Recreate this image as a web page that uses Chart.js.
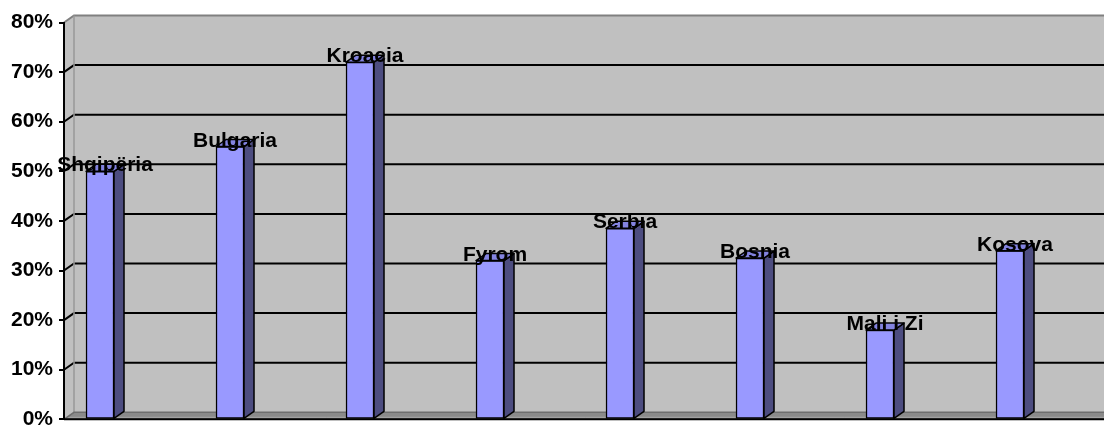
<!DOCTYPE html>
<html>
<head>
<meta charset="utf-8">
<script src="https://cdn.jsdelivr.net/npm/chart.js@4.4.1/dist/chart.umd.min.js"></script>
<style>
  html, body { margin: 0; padding: 0; background: #fff; }
  #wrap { width: 1104px; height: 428px; }
</style>
</head>
<body>
<div id="wrap"><canvas id="chart"></canvas></div>
<script>
const countries = ['Shqipëria', 'Bulgaria', 'Kroacia', 'Fyrom', 'Serbia', 'Bosnia', 'Mali i Zi', 'Kosova'];
const shares = [50, 55, 72, 32, 38.5, 32.5, 18, 34];
const yTicks = [0, 10, 20, 30, 40, 50, 60, 70, 80];

// 3D depth offset of the walls and bars
const DX = 10, DY = -7;
const FONT = 'bold 21px "Liberation Sans", Arial, sans-serif';

function line(ctx, pts, color, w) {
  ctx.beginPath();
  ctx.moveTo(pts[0][0], pts[0][1]);
  for (let i = 1; i < pts.length; i++) ctx.lineTo(pts[i][0], pts[i][1]);
  ctx.strokeStyle = color;
  ctx.lineWidth = w;
  ctx.stroke();
}

function poly(ctx, pts, fill, stroke, w) {
  ctx.beginPath();
  ctx.moveTo(pts[0][0], pts[0][1]);
  for (let i = 1; i < pts.length; i++) ctx.lineTo(pts[i][0], pts[i][1]);
  ctx.closePath();
  ctx.fillStyle = fill;
  ctx.fill();
  if (stroke) { ctx.strokeStyle = stroke; ctx.lineWidth = w; ctx.stroke(); }
}

// walls, floor and back gridlines
const wallsPlugin = {
  id: 'walls',
  beforeDraw(chart) {
    const { ctx, chartArea: a, scales: { y } } = chart;
    const L = a.left, R = a.right, T = a.top, B = a.bottom;
    ctx.save();
    // back wall
    ctx.fillStyle = '#c0c0c0';
    ctx.fillRect(L + DX, T + DY, R - L - DX, B - T);
    // left wall
    poly(ctx, [[L, T], [L + DX, T + DY], [L + DX, B + DY], [L, B]], '#c0c0c0');
    // floor
    poly(ctx, [[L, B], [L + DX, B + DY], [R, B + DY], [R, B]], '#8a8a8a');
    line(ctx, [[L + 3, B - 2], [R, B - 2]], '#a8a8a8', 1);
    // gridlines on back wall
    yTicks.forEach(t => {
      if (t === yTicks[0] || t === yTicks[yTicks.length - 1]) return;
      const py = y.getPixelForValue(t);
      line(ctx, [[L, py], [L + DX, py + DY], [R, py + DY]], '#000', 2);
    });
    // edges
    line(ctx, [[L, T], [L + DX, T + DY], [R, T + DY]], '#808080', 2);
    line(ctx, [[L + DX, T + DY], [L + DX, B + DY]], '#999', 1.5);
    line(ctx, [[L, B], [L + DX, B + DY], [R, B + DY]], '#6e6e6e', 1.5);
    ctx.restore();
  },
  afterDatasetsDraw(chart) {
    const { ctx, chartArea: a } = chart;
    const meta = chart.getDatasetMeta(0);
    ctx.save();
    ctx.lineJoin = 'round';
    meta.data.forEach(bar => {
      const { x, y, base, width } = bar.getProps(['x', 'y', 'base', 'width'], true);
      const l = x - width / 2, r = x + width / 2;
      poly(ctx, [[r, y], [r + DX, y + DY], [r + DX, base + DY], [r, base]], '#4d4d80', '#000', 1.5);
      poly(ctx, [[l, y], [l + DX, y + DY], [r + DX, y + DY], [r, y]], '#8383e0', '#000', 1.5);
    });
    line(ctx, [[a.left, a.bottom], [a.right, a.bottom]], '#000', 2);
    ctx.font = FONT;
    ctx.fillStyle = '#000';
    ctx.textAlign = 'center';
    ctx.textBaseline = 'alphabetic';
    meta.data.forEach((bar, i) => {
      const { x, y } = bar.getProps(['x', 'y'], true);
      ctx.fillText(countries[i], x + DX / 2, y);
    });
    ctx.restore();
  }
};

new Chart(document.getElementById('chart'), {
  type: 'bar',
  data: {
    datasets: [{
      data: shares.map((v, i) => ({ x: i, y: v })),
      backgroundColor: '#9999ff',
      borderColor: '#000',
      borderWidth: 1.5,
      borderSkipped: false,
      barThickness: 28
    }]
  },
  options: {
    responsive: true,
    maintainAspectRatio: false,
    devicePixelRatio: 1,
    animation: false,
    layout: { padding: { top: 22.5, bottom: 8.7, left: 0, right: 0 } },
    plugins: {
      legend: { display: false },
      tooltip: { enabled: false }
    },
    scales: {
      x: {
        type: 'linear',
        min: -0.277,
        max: 7.723,
        offset: false,
        display: false
      },
      y: {
        min: yTicks[0],
        max: yTicks[yTicks.length - 1],
        afterFit(scale) {
          scale.width = 64;
          scale.paddingTop = 0;
          scale.paddingBottom = 0;
        },
        ticks: {
          stepSize: 10,
          padding: 6,
          color: '#000',
          font: { family: '"Liberation Sans", Arial, sans-serif', size: 21, weight: 'bold' },
          callback: v => v + '%'
        },
        grid: {
          drawOnChartArea: false,
          color: '#000',
          lineWidth: 2,
          tickLength: 5
        },
        border: { display: true, color: '#000', width: 2 }
      }
    }
  },
  plugins: [wallsPlugin]
});
</script>
</body>
</html>
